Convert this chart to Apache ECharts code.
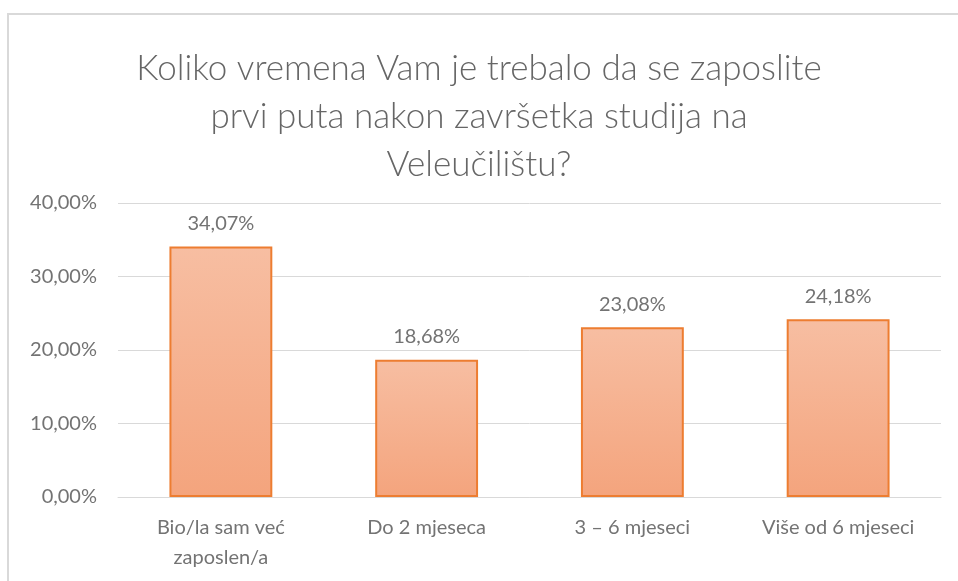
<!DOCTYPE html>
<html>
<head>
<meta charset="utf-8">
<script src="https://cdn.jsdelivr.net/npm/echarts@6/dist/echarts.min.js"></script>
<style>
  html, body { margin: 0; padding: 0; background: #fff; }
  #chart { width: 958px; height: 581px; }
</style>
</head>
<body>
<div id="chart"></div>
<script>
// podaci
var categories = ["Bio/la sam već\nzaposlen/a", "Do 2 mjeseca", "3 – 6 mjeseci", "Više od 6 mjeseci"];
var values = [34.07, 18.68, 23.08, 24.18];
var titleText = "Koliko vremena Vam je trebalo da se zaposlite\nprvi puta nakon završetka studija na\nVeleučilištu?";

var fmt = function (v) {
    return v.toFixed(2).replace(".", ",") + "%";
};

var myChart = echarts.init(document.getElementById("chart"));
var option = {
    backgroundColor: "#fff",
    textStyle: { fontFamily: "Lato, 'Open Sans', sans-serif" },
    graphic: [
        {
            type: "rect",
            shape: { x: 8, y: 14, width: 1000, height: 600 },
            style: { fill: "none", stroke: "#d9d9d9", lineWidth: 2 },
            silent: true,
        },
    ],
    title: {
        text: titleText,
        left: "center",
        top: 40,
        textStyle: {
            fontSize: 35,
            fontWeight: 300,
            color: "#666666",
            lineHeight: 48,
        },
    },
    grid: {
        left: 118,
        right: 17,
        top: 203,
        bottom: 84,
        containLabel: false,
    },
    xAxis: {
        type: "category",
        data: categories,
        axisLine: { lineStyle: { color: "#d9d9d9", width: 1 } },
        axisTick: { show: false },
        axisLabel: {
            color: "#737373",
            fontSize: 20,
            lineHeight: 30,
            margin: 16,
        },
    },
    yAxis: {
        type: "value",
        min: 0,
        max: 40,
        interval: 10,
        axisLine: { show: false },
        axisTick: { show: false },
        splitLine: { lineStyle: { color: "#d9d9d9", width: 1 } },
        axisLabel: {
            color: "#737373",
            fontSize: 20,
            margin: 21,
            formatter: fmt,
        },
    },
    series: [
        {
            type: "bar",
            data: values,
            barWidth: "50%",
            itemStyle: {
                color: new echarts.graphic.LinearGradient(0, 0, 0, 1, [
                    { offset: 0, color: "#F7BEA2" },
                    { offset: 1, color: "#F4A47D" },
                ]),
                borderColor: "#ED7D31",
                borderWidth: 2,
            },
            label: {
                show: true,
                position: "top",
                distance: 13,
                color: "#737373",
                fontSize: 20,
                formatter: function (p) {
                    return fmt(p.value);
                },
            },
        },
    ],
};
myChart.setOption(option);
</script>
</body>
</html>
